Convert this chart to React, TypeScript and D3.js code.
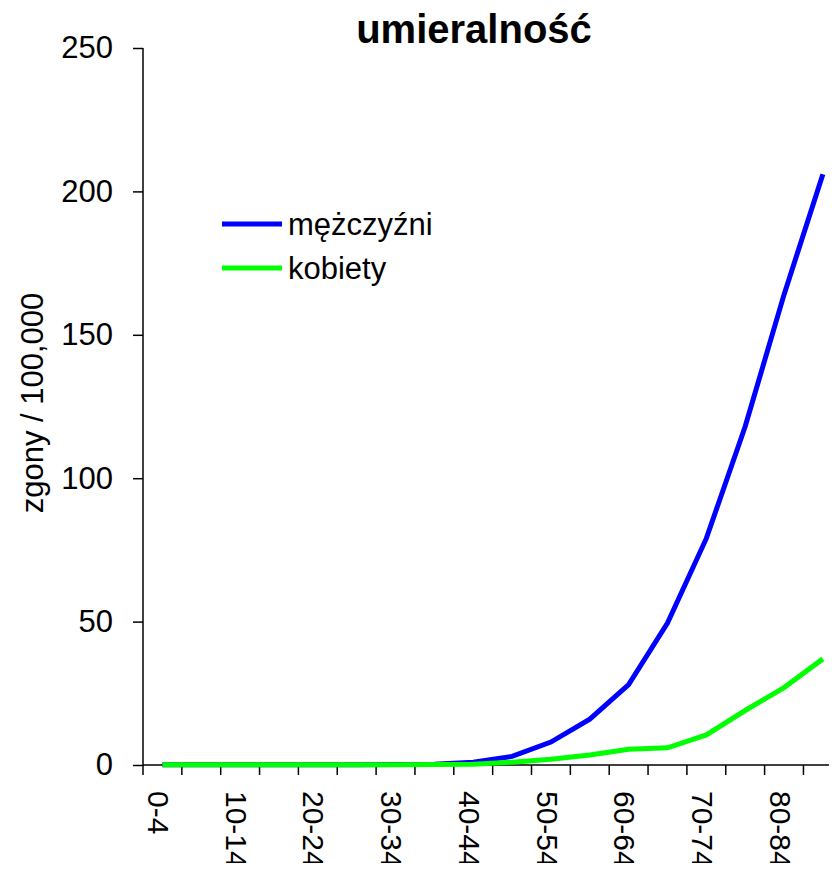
import React, { useRef, useEffect } from "react";
import * as d3 from "d3";

const ageGroups = [
  "0-4", "5-9", "10-14", "15-19", "20-24", "25-29", "30-34", "35-39", "40-44",
  "45-49", "50-54", "55-59", "60-64", "65-69", "70-74", "75-79", "80-84", "85+",
];
const men = [0.1, 0.1, 0.1, 0.1, 0.1, 0.1, 0.2, 0.3, 1, 3, 8, 16, 28, 49.5, 79, 118, 164, 206];
const women = [0.1, 0.1, 0.1, 0.1, 0.1, 0.1, 0.1, 0.2, 0.3, 1, 2, 3.5, 5.5, 6, 10.5, 19, 27, 37];
const yTicks = [0, 50, 100, 150, 200, 250];
const seriesNames = ["mężczyźni", "kobiety"];
const seriesColors = ["#0000ff", "#00ff00"];

const App = () => {
  const svgRef = useRef<SVGSVGElement>(null);

  useEffect(() => {
    if (!svgRef.current) return;
    const width = 837;
    const height = 871;
    const font = "Liberation Sans, Arial, sans-serif";

    const svg = d3.select(svgRef.current).attr("width", width).attr("height", height);
    svg.selectAll("*").remove();

    const x = d3.scaleBand().domain(ageGroups).range([143, 143 + 18 * 38.85]);
    const y = d3.scaleLinear().domain([0, 250]).range([765, 48]);
    const cx = (d: string) => (x(d) ?? 0) + x.bandwidth() / 2;

    // title
    svg
      .append("text")
      .attr("x", 474)
      .attr("y", 43)
      .attr("text-anchor", "middle")
      .style("font-family", font)
      .style("font-weight", "bold")
      .style("font-size", "40px")
      .text("umieralność");

    // y axis
    svg
      .append("g")
      .attr("transform", "translate(143,0)")
      .call(d3.axisLeft(y).tickValues(yTicks).tickSize(10).tickPadding(20))
      .call((g) => g.select(".domain").attr("stroke", "#000").attr("stroke-width", 1.5).attr("d", `M0,${y(250)}V${y(0)}`))
      .call((g) => g.selectAll(".tick line").attr("stroke", "#000").attr("stroke-width", 1.5))
      .call((g) =>
        g.selectAll(".tick text").style("font-family", font).style("font-size", "31px").attr("fill", "#000")
      );

    // x axis
    const xBoundaries = d3.range(ageGroups.length + 1).map((i) => 143 + i * x.step());
    svg
      .append("line")
      .attr("x1", 143)
      .attr("x2", width)
      .attr("y1", y(0))
      .attr("y2", y(0))
      .attr("stroke", "#000")
      .attr("stroke-width", 1.5);
    svg
      .append("g")
      .selectAll("line")
      .data(xBoundaries)
      .join("line")
      .attr("x1", (d) => d)
      .attr("x2", (d) => d)
      .attr("y1", y(0))
      .attr("y2", y(0) + 10)
      .attr("stroke", "#000")
      .attr("stroke-width", 1.5);

    svg
      .append("g")
      .selectAll("text")
      .data(ageGroups.filter((_, i) => i % 2 === 0 && i < 17))
      .join("text")
      .attr("transform", (d) => `translate(${cx(d)},791) rotate(90)`)
      .attr("dy", "0.48em")
      .style("font-family", font)
      .style("font-size", "30px")
      .text((d) => d);

    // y label
    svg
      .append("text")
      .attr("transform", "translate(32,403) rotate(-90)")
      .attr("text-anchor", "middle")
      .attr("dy", "0.35em")
      .style("font-family", font)
      .style("font-size", "31px")
      .text("zgony / 100,000");

    // lines
    const line = d3
      .line<number>()
      .x((_, i) => cx(ageGroups[i]))
      .y((d) => y(d));
    [men, women].forEach((s, k) => {
      svg
        .append("path")
        .attr("d", line(s))
        .attr("fill", "none")
        .attr("stroke", seriesColors[k])
        .attr("stroke-width", 5);
    });

    // legend
    seriesNames.forEach((name, k) => {
      const ly = 224 + k * 44;
      svg
        .append("line")
        .attr("x1", 222)
        .attr("x2", 282)
        .attr("y1", ly)
        .attr("y2", ly)
        .attr("stroke", seriesColors[k])
        .attr("stroke-width", 5);
      svg
        .append("text")
        .attr("x", 288)
        .attr("y", ly)
        .attr("dy", "0.35em")
        .style("font-family", font)
        .style("font-size", "31px")
        .text(name);
    });
  }, []);

  return <svg ref={svgRef} style={{ display: "block", margin: "-8px" }}></svg>;
};

export default App;
